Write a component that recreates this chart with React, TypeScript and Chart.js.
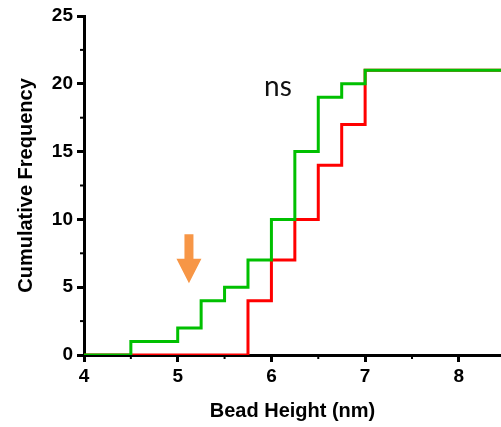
import React, { useEffect, useRef } from "react";
import { Chart, registerables } from "chart.js";

Chart.register(...registerables);

// Step positions (bead height, nm) and cumulative counts
const greenX = [4, 4.5, 5, 5.25, 5.5, 5.75, 6, 6.25, 6.5, 6.75, 7, 8.45];
const greenY = [0, 1, 2, 4, 5, 7, 10, 15, 19, 20, 21, 21];
const redX = [4, 5.75, 6, 6.25, 6.5, 6.75, 7, 8.45];
const redY = [0, 4, 7, 10, 14, 17, 21, 21];

const xTicks = [4, 5, 6, 7, 8];
const yTicks = [0, 5, 10, 15, 20, 25];
const xMinor = [4.5, 5.5, 6.5, 7.5];
const yMinor = [2.5, 7.5, 12.5, 17.5, 22.5];

const X_MIN = 4;
const X_MAX = 8.45;
const Y_MIN = 0;
const Y_MAX = 25;

// annotation anchors (data coordinates)
const ARROW_X = 5.12;
const ARROW_TOP = 8.9;
const ARROW_HEAD = 7.1;
const ARROW_TIP = 5.3;
const NS_X = 6.07;
const NS_Y = 19.8;
const NS_TEXT = "ns";

const overlay = {
  id: "overlay",
  afterDatasetsDraw(chart: any) {
    const { ctx, scales } = chart;
    const xs = scales.x;
    const ys = scales.y;
    ctx.save();
    // minor ticks
    ctx.strokeStyle = "#000";
    ctx.lineWidth = 2;
    xMinor.forEach((v) => {
      const px = xs.getPixelForValue(v);
      ctx.beginPath();
      ctx.moveTo(px, ys.bottom);
      ctx.lineTo(px, ys.bottom + 4);
      ctx.stroke();
    });
    yMinor.forEach((v) => {
      const py = ys.getPixelForValue(v);
      ctx.beginPath();
      ctx.moveTo(xs.left, py);
      ctx.lineTo(xs.left - 4, py);
      ctx.stroke();
    });
    // arrow
    const ax = xs.getPixelForValue(ARROW_X);
    const aTop = ys.getPixelForValue(ARROW_TOP);
    const aHead = ys.getPixelForValue(ARROW_HEAD);
    const aTip = ys.getPixelForValue(ARROW_TIP);
    ctx.fillStyle = "#f79646";
    ctx.beginPath();
    ctx.moveTo(ax - 4.5, aTop);
    ctx.lineTo(ax + 4.5, aTop);
    ctx.lineTo(ax + 4.5, aHead);
    ctx.lineTo(ax + 12.5, aHead);
    ctx.lineTo(ax, aTip);
    ctx.lineTo(ax - 12.5, aHead);
    ctx.lineTo(ax - 4.5, aHead);
    ctx.closePath();
    ctx.fill();
    // ns label
    ctx.fillStyle = "#111";
    ctx.font = "28px Lato, 'Open Sans', sans-serif";
    ctx.textAlign = "center";
    ctx.textBaseline = "middle";
    ctx.fillText(NS_TEXT, xs.getPixelForValue(NS_X), ys.getPixelForValue(NS_Y));
    ctx.restore();
  },
};

export default function App() {
  const ref = useRef<HTMLCanvasElement>(null);
  useEffect(() => {
    if (!ref.current) return;
    const tickFont = { family: "'Liberation Sans', Arial, sans-serif", size: 19, weight: "bold" as const };
    const titleFont = { family: "'Liberation Sans', Arial, sans-serif", size: 20, weight: "bold" as const };
    const chart = new Chart(ref.current, {
      type: "line",
      data: {
        datasets: [
          {
            label: "green",
            data: greenX.map((x, i) => ({ x, y: greenY[i] })),
            borderColor: "#00c000",
            borderWidth: 3,
            pointRadius: 0,
            stepped: "before",
            fill: false,
          },
          {
            label: "red",
            data: redX.map((x, i) => ({ x, y: redY[i] })),
            borderColor: "#ff0000",
            borderWidth: 3,
            pointRadius: 0,
            stepped: "before",
            fill: false,
          },
        ],
      },
      options: {
        animation: false,
        responsive: false,
        layout: { padding: { top: 16, right: 0, left: 0, bottom: 0 } },
        plugins: { legend: { display: false }, tooltip: { enabled: false } },
        scales: {
          x: {
            type: "linear",
            min: X_MIN,
            max: X_MAX,
            afterBuildTicks: (s: any) => {
              s.ticks = xTicks.map((v) => ({ value: v }));
            },
            afterFit: (s: any) => {
              s.height = 72;
            },
            ticks: { color: "#000", font: tickFont, padding: 3, maxRotation: 0, autoSkip: false },
            grid: { drawOnChartArea: false, drawTicks: true, tickLength: 7, color: "#000", lineWidth: 3 },
            border: { display: true, color: "#000", width: 3 },
            title: { display: true, text: "Bead Height (nm)", color: "#000", font: titleFont, padding: { top: 0, bottom: 4 } },
          },
          y: {
            type: "linear",
            min: Y_MIN,
            max: Y_MAX,
            afterBuildTicks: (s: any) => {
              s.ticks = yTicks.map((v) => ({ value: v }));
            },
            afterFit: (s: any) => {
              s.width = 84;
            },
            ticks: { color: "#000", font: tickFont, padding: 4, autoSkip: false },
            grid: { drawOnChartArea: false, drawTicks: true, tickLength: 7, color: "#000", lineWidth: 3 },
            border: { display: true, color: "#000", width: 3 },
            title: { display: true, text: "Cumulative Frequency", color: "#000", font: titleFont, padding: { top: 14, bottom: 0 } },
          },
        },
      },
      plugins: [overlay],
    });
    return () => chart.destroy();
  }, []);
  return (
    <div style={{ position: "fixed", left: 0, top: 0, width: 501, height: 427, background: "#fff" }}>
      <canvas ref={ref} width={501} height={427} style={{ display: "block" }} />
    </div>
  );
}
